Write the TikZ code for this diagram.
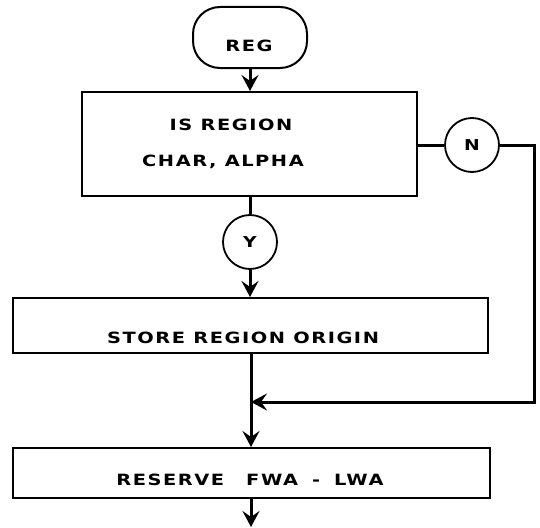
\documentclass[tikz,border=0pt]{standalone}
\usepackage{fontspec}
\newfontfamily\flow{DejaVu Sans Bold}[FakeStretch=1.25,LetterSpace=10]
\usetikzlibrary{arrows.meta}
\begin{document}
\begin{tikzpicture}[x=1pt,y=-1pt,
  box/.style={draw,line width=2pt,inner sep=0pt},
  conn/.style={draw,circle,line width=1.8pt,minimum size=54pt,inner sep=0pt,font=\flow\fontsize{15}{16}\selectfont},
  lbl/.style={font=\flow\fontsize{15.5}{17}\selectfont,inner sep=0pt},
  flowline/.style={line width=3pt},
  arr/.style={flowline,-{Stealth[length=16pt,width=17pt,inset=6pt]}}]
\useasboundingbox (0,0) rectangle (540,527);
% nodes
\node[box,rounded corners=27pt,minimum width=114pt,minimum height=61pt] (reg) at (250,37.5) {};
\node[lbl] (regt) at (249,46) {REG};
\node[box,minimum width=335pt,minimum height=104pt] (dec) at (249.5,144) {};
\node[lbl] (dect1) at (231,125) {IS REGION};
\node[lbl] (dect2) at (223,162) {CHAR, ALPHA};
\node[conn] (y) at (250,242) {Y};
\node[conn] (n) at (472,145) {N};
\node[box,minimum width=475pt,minimum height=55pt] (store) at (250.5,325.5) {};
\node[lbl] (storet) at (243,338) {STORE REGION ORIGIN};
\node[box,minimum width=477pt,minimum height=50pt] (reserve) at (251.5,473) {};
\node[lbl] (reservet) at (250,480) {RESERVE\hspace{22pt}FWA\hspace{14pt}-\hspace{14pt}LWA};
\coordinate (corner) at (534,402);
\coordinate (merge) at (251,402);
\coordinate (end) at (251,527);
% connectors
\draw[arr] (reg.south) -- (reg.south |- dec.north);
\draw[flowline] (dec.south -| y) -- (y.north);
\draw[arr] (y.south) -- (y.south |- store.north);
\draw[flowline] (dec.east |- n) -- (n.west);
\draw[arr] (n.east) -| (corner) -- (merge);
\draw[arr] (store.south -| merge) -- (merge |- reserve.north);
\draw[arr] (reserve.south -| end) -- (end);
\end{tikzpicture}
\end{document}
